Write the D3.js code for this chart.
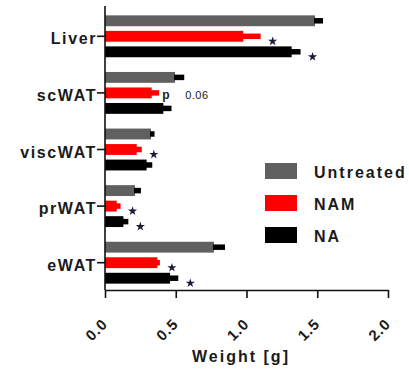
<!DOCTYPE html>
<html>
<head>
<meta charset="utf-8">
<script src="https://cdn.jsdelivr.net/npm/d3@7"></script>
<style>
    body { margin: 0; background: #fff; }
    svg { display: block; font-family: 'Liberation Sans', Arial, sans-serif; }
    .domain, .tick line { stroke: #111; stroke-width: 1.6; }
</style>
</head>
<body>
<div id="chart"></div>
<script>
    // 组织与处理组
    const tissues = ['Liver', 'scWAT', 'viscWAT', 'prWAT', 'eWAT'];
    const groups = ['Untreated', 'NAM', 'NA'];
    const colors = ['#606060', '#ff0000', '#000000'];
    const errColors = ['#000000', '#ff0000', '#000000'];

    // 均值与SEM（按组织顺序）
    const untreatedMean = [1.484, 0.495, 0.325, 0.212, 0.770];
    const untreatedSem = [0.057, 0.065, 0.025, 0.042, 0.078];
    const namMean = [0.977, 0.330, 0.224, 0.083, 0.370];
    const namSem = [0.123, 0.053, 0.036, 0.027, 0.018];
    const naMean = [1.319, 0.412, 0.294, 0.130, 0.460];
    const naSem = [0.063, 0.058, 0.040, 0.035, 0.058];

    // 显著性标记: [组织, 组]
    const stars = [['Liver', 'NAM'], ['Liver', 'NA'], ['viscWAT', 'NAM'],
        ['prWAT', 'NAM'], ['prWAT', 'NA'], ['eWAT', 'NAM'], ['eWAT', 'NA']];
    const pNotes = [['scWAT', 'NAM', '0.06']];

    const xTicks = [0, 0.5, 1.0, 1.5, 2.0];

    const means = [untreatedMean, namMean, naMean];
    const sems = [untreatedSem, namSem, naSem];

    const data = [];
    tissues.forEach(function (t, i) {
        groups.forEach(function (g, j) {
            data.push({ tissue: t, group: g, gi: j, mean: means[j][i], sem: sems[j][i] });
        });
    });
    const find = function (t, g) {
        return data.find(function (d) { return d.tissue === t && d.group === g; });
    };

    const width = 409, height = 370;
    const svg = d3.select('#chart').append('svg').attr('width', width).attr('height', height);

    const x = d3.scaleLinear().domain([0, 2]).range([105, 388]);
    const y = d3.scaleBand().domain(tissues).range([8, 291]);
    const yInner = d3.scaleBand().domain(groups).range([-23.5, 23.5]).paddingInner(0.3).paddingOuter(0.165);

    const barY = function (d) { return y(d.tissue) + y.bandwidth() / 2 + yInner(d.group); };
    const barC = function (d) { return barY(d) + yInner.bandwidth() / 2; };

    // 柱子
    svg.append('g').selectAll('rect').data(data).join('rect')
        .attr('x', x(0))
        .attr('y', barY)
        .attr('width', function (d) { return x(d.mean) - x(0); })
        .attr('height', yInner.bandwidth())
        .attr('fill', function (d) { return colors[d.gi]; });

    // 误差线
    svg.append('g').selectAll('line').data(data).join('line')
        .attr('x1', function (d) { return x(d.mean) - 1; })
        .attr('x2', function (d) { return x(d.mean + d.sem); })
        .attr('y1', barC).attr('y2', barC)
        .attr('stroke', function (d) { return errColors[d.gi]; })
        .attr('stroke-width', 5.5);

    // 坐标轴
    const xAxis = svg.append('g').attr('transform', 'translate(0,290)')
        .call(d3.axisBottom(x).tickValues(xTicks).tickFormat(d3.format('.1f')).tickSizeInner(8).tickSizeOuter(0));
    xAxis.selectAll('.tick text')
        .attr('y', 0).attr('dy', 0)
        .attr('text-anchor', 'end')
        .attr('transform', 'translate(3,35) rotate(-45)')
        .style('font-size', '15px').style('font-weight', 'bold').style('letter-spacing', '1px').attr('fill', '#1a1a1a');

    const yAxis = svg.append('g').attr('transform', 'translate(105,0)')
        .call(d3.axisLeft(y).tickSizeInner(8).tickSizeOuter(0).tickPadding(0));
    yAxis.select('.domain').attr('d', 'M0,6V290');
    yAxis.selectAll('.tick text')
        .attr('dy', '0.5em')
        .style('font-size', '16px').style('font-weight', 'bold').style('letter-spacing', '1.6px').attr('fill', '#1a1a1a');

    svg.append('text').attr('x', 241).attr('y', 362).attr('text-anchor', 'middle')
        .style('font-size', '16px').style('font-weight', 'bold').style('letter-spacing', '2px').attr('fill', '#1a1a1a')
        .text('Weight [g]');

    // 星号
    svg.append('g').selectAll('path').data(stars).join('path')
        .attr('d', d3.symbol().type(d3.symbolStar).size(26))
        .attr('transform', function (s) {
            const d = find(s[0], s[1]);
            return 'translate(' + (x(d.mean + d.sem) + 12) + ',' + (barC(d) + 5) + ')';
        })
        .attr('fill', '#1b1b3a');

    // p值
    pNotes.forEach(function (p) {
        const d = find(p[0], p[1]);
        const x0 = x(d.mean + d.sem);
        svg.append('text').attr('x', x0 + 3).attr('y', barC(d) + 6)
            .style('font-size', '12px').style('font-weight', 'bold').attr('fill', '#1a1a1a').text('p');
        svg.append('text').attr('x', x0 + 26).attr('y', barC(d) + 6)
            .style('font-size', '11px').style('letter-spacing', '0.5px').attr('fill', '#1a1a1a').text(p[2]);
    });

    // 图例
    const legend = svg.append('g').selectAll('g').data(groups).join('g')
        .attr('transform', function (d, i) { return 'translate(265,' + (163 + i * 32) + ')'; });
    legend.append('rect').attr('width', 32).attr('height', 16)
        .attr('fill', function (d, i) { return colors[i]; });
    legend.append('text').attr('x', 49).attr('y', 14.5)
        .style('font-size', '16px').style('font-weight', 'bold').style('letter-spacing', '2px').attr('fill', '#1a1a1a')
        .text(function (d) { return d; });
</script>
</body>
</html>
